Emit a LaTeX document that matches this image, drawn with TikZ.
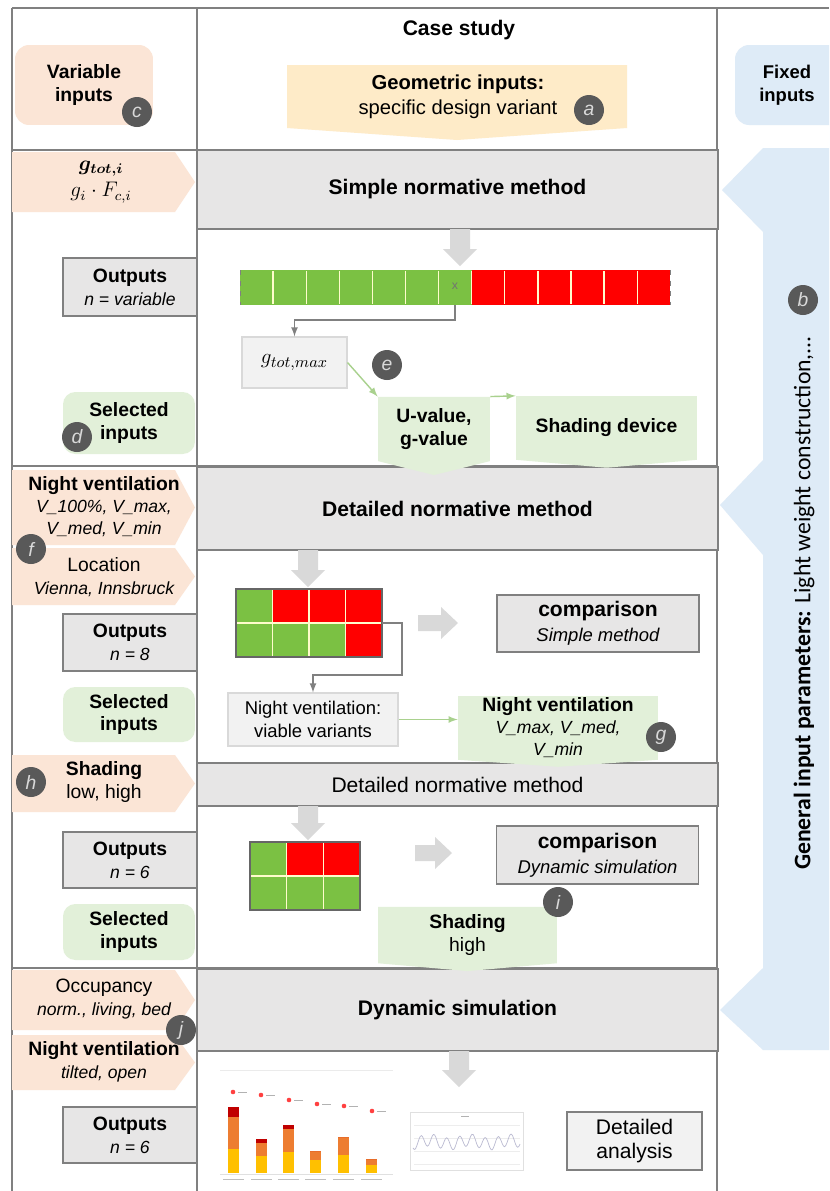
\documentclass[tikz,border=0pt]{standalone}
\usepackage{fontspec}
\setmainfont{Liberation Sans}
\newfontfamily\sidefont{Carlito}
\usetikzlibrary{shapes.symbols}

\definecolor{peach}{HTML}{FBE5D6}
\definecolor{leaf}{HTML}{E2F0D9}
\definecolor{sand}{HTML}{FEEBC8}
\definecolor{sky}{HTML}{DEEBF7}
\definecolor{headgray}{HTML}{E7E6E6}
\definecolor{framegray}{HTML}{808080}
\definecolor{palegray}{HTML}{F2F2F2}
\definecolor{arrowgray}{HTML}{D9D9D9}
\definecolor{badgegray}{HTML}{595959}
\definecolor{okgreen}{HTML}{7BC143}
\definecolor{badred}{HTML}{FF0000}
\definecolor{linkgreen}{HTML}{A9D18E}
\definecolor{chartyellow}{HTML}{FFC000}
\definecolor{chartorange}{HTML}{ED7D31}
\definecolor{chartred}{HTML}{C00000}

\newcommand{\subline}[1]{{\fontsize{10}{13}\selectfont\itshape #1}}

\begin{document}
\begin{tikzpicture}[x=0.02cm, y=-0.02cm,
  frame/.style={draw=framegray, line width=0.8pt},
  header/.style={draw=framegray, fill=headgray, line width=0.8pt, minimum width=10.42cm},
  outbox/.style={draw=framegray, fill=headgray, line width=0.6pt, minimum width=2.68cm, align=center, font=\fontsize{11}{13}\selectfont},
  selbox/.style={fill=leaf, rounded corners=7pt, minimum width=2.64cm, align=center, font=\bfseries\fontsize{11}{13}\selectfont},
  intext/.style={align=center, font=\fontsize{11}{13}\selectfont},
  selarrow/.style={signal, signal to=south, fill=leaf, inner sep=1pt, align=center, font=\fontsize{11}{13}\selectfont},
  cmpbox/.style={draw=framegray, fill=headgray, line width=0.6pt, minimum width=4.04cm, minimum height=1.14cm, align=center, font=\fontsize{12}{14}\selectfont},
  palebox/.style={draw=arrowgray, fill=palegray, line width=0.6pt, align=center, font=\fontsize{10.5}{13}\selectfont},
  badge/.style={circle, fill=badgegray, text=white!85!black, font=\itshape\fontsize{11}{11}\selectfont, inner sep=0pt, minimum size=0.6cm},
  fatarrow/.style={fill=arrowgray},
  cellsep/.style={draw=white!80!yellow, line width=0.7pt},
  link/.style={draw=framegray, line width=0.8pt, -latex},
  greenlink/.style={draw=linkgreen, line width=0.8pt, -latex}]

\useasboundingbox (0,0) rectangle (829,1191);
\clip (0,0) rectangle (829,1191);
\fill[white] (0,0) rectangle (829,1191);

% Fixed inputs column
\fill[sky, rounded corners=8pt] (735,45) rectangle (850,125);
\node[align=center, font=\bfseries\fontsize{10.5}{13}\selectfont] (fixin) at (787,85) {Fixed\\inputs};
\fill[sky] (840,148) -- (763,148) -- (722,190) -- (763,232) -- (763,460) -- (720,505) -- (763,555)
  -- (763,968) -- (720,1010) -- (763,1050) -- (840,1050) -- cycle;
\node[rotate=90, font=\sidefont\fontsize{13.5}{15}\selectfont] (genin) at (804,603)
  {\textbf{General input parameters:} Light weight construction,...};
\node[badge] (bb) at (803,300) {b};

% Table lines
\draw[frame] (12,8) -- (829,8);
\draw[frame] (12,8) -- (12,1191);
\draw[frame] (197,8) -- (197,1191);
\draw[frame] (717,8) -- (717,1191);
\draw[frame] (12,150) -- (717,150);
\draw[frame] (12,466) -- (717,466);
\draw[frame] (12,968) -- (717,968);

% Case study
\node[font=\bfseries\fontsize{12}{14}\selectfont] (case) at (459,30) {Case study};
\fill[sand] (287,65) -- (627,65) -- (627,128) -- (457,140) -- (287,128) -- cycle;
\node[align=center, font=\fontsize{11.5}{14}\selectfont] (geo) at (458,97) {\textbf{Geometric inputs:}\\specific design variant};
\node[badge] (ba) at (589,110) {a};
\node[fill=peach, rounded corners=8pt, minimum width=2.76cm, minimum height=1.6cm, align=center,
  font=\bfseries\fontsize{11}{13}\selectfont] (varin) at (84,85) {Variable\\inputs};
\node[badge] (bc) at (137,112) {c};

% Method rows
\node[header, minimum height=1.58cm, font=\bfseries\fontsize{12}{14}\selectfont] (simple) at (457.5,189.5) {Simple normative method};
\node[header, minimum height=1.66cm, font=\bfseries\fontsize{12}{14}\selectfont] (detail) at (457.5,508.5) {Detailed normative method};
\node[header, minimum height=0.86cm, font=\fontsize{12}{14}\selectfont] (detailb) at (457.5,784.5) {Detailed normative method};
\node[header, minimum height=1.64cm, font=\bfseries\fontsize{12}{14}\selectfont] (dynamic) at (457.5,1010) {Dynamic simulation};

% Fat arrows
\foreach \x/\ya/\yb in {460/229/266, 308/550/587, 308/806/840, 459/1051/1087}
  \fill[fatarrow] (\x-10,\ya) -- (\x+10,\ya) -- (\x+10,\yb-17) -- (\x+17,\yb-17) -- (\x,\yb)
    -- (\x-17,\yb-17) -- (\x-10,\yb-17) -- cycle;
\foreach \xa/\xb/\y in {418/458/623, 415/452/853}
  \fill[fatarrow] (\xa,\y-8) -- (\xb-17,\y-8) -- (\xb-17,\y-16) -- (\xb,\y) -- (\xb-17,\y+16)
    -- (\xb-17,\y+8) -- (\xa,\y+8) -- cycle;

% Left column inputs
\foreach \ya/\yb in {152/212, 470/545, 548/605, 755/812, 970/1030, 1035/1090}
  \fill[peach] (12,\ya) -- (175,\ya) -- (195,{(\ya+\yb)/2}) -- (175,\yb) -- (12,\yb) -- cycle;
\node[intext, font=\fontsize{12}{15}\selectfont] (gin) at (101,182)
  {{\boldmath$g_{tot,i}$}\\$g_{i}\cdot F_{c,i}$};
\node[outbox, minimum height=1.16cm] (out1) at (130,287) {\textbf{Outputs}\\\subline{n = variable}};
\node[selbox, minimum height=1.24cm] (sel1) at (129,423) {Selected\\inputs};
\node[badge] (bd) at (77,437) {d};

\node[intext, font=\fontsize{11}{12.5}\selectfont] (nvin) at (104,507)
  {\textbf{Night ventilation}\\\subline{V\_100\%, V\_max,}\\\subline{V\_med, V\_min}};
\node[intext] (locin) at (104,577) {Location\\\subline{Vienna, Innsbruck}};
\node[badge] (bf) at (31,549) {f};
\node[outbox, minimum height=1.14cm] (out2) at (130,642.5) {\textbf{Outputs}\\\subline{n = 8}};
\node[selbox, minimum height=1.1cm] (sel2) at (129,714.5) {Selected\\inputs};

\node[intext] (shin) at (104,782) {\textbf{Shading}\\low, high};
\node[badge] (bh) at (31,782) {h};
\node[outbox, minimum height=1.12cm] (out3) at (130,860) {\textbf{Outputs}\\\subline{n = 6}};
\node[selbox, minimum height=1.12cm] (sel3) at (129,932) {Selected\\inputs};

\node[intext] (occin) at (104,999) {Occupancy\\\subline{norm., living, bed}};
\node[intext] (ventin) at (104,1062) {\textbf{Night ventilation}\\\subline{tilted, open}};
\node[badge] (bj) at (181,1030) {j};
\node[outbox, minimum height=1.12cm] (out4) at (130,1135) {\textbf{Outputs}\\\subline{n = 6}};

% Simple method: results bar
\foreach \i in {0,...,6}
  \fill[okgreen] ({240+\i*33.1},270) rectangle ++(33.1,35);
\foreach \i in {7,...,12}
  \fill[badred] ({240+\i*33.1},270) rectangle ++(33.1,35);
\foreach \i in {1,...,12}
  \draw[cellsep] ({240+\i*33.1},271) -- ++(0,33);
\draw[framegray, dashed, line width=0.5pt] (240,270) -- (240,305);
\draw[framegray, dashed, line width=0.5pt] (670,270) -- (670,305);
\node[text=black!55, font=\fontsize{7}{7}\selectfont] (xmark) at (455,286) {x};
\coordinate (xcell) at (455,305);

\node[palebox, minimum width=2.1cm, minimum height=1.02cm, font=\fontsize{13}{15}\selectfont] (gtmax) at (294.5,362.5) {$g_{tot,max}$};
\node[badge] (be) at (387,365) {e};
\node[selarrow, signal pointer angle=152, minimum width=2.24cm, minimum height=1.48cm] (uval) at (434,429)
  {\textbf{U-value,}\\\textbf{g-value}};
\node[selarrow, signal pointer angle=170, minimum width=3.62cm, minimum height=1.4cm] (shad) at (606.5,428)
  {\textbf{Shading device}};

\draw[link] (xcell) -- ++(0,15) -| (gtmax.north);
\draw[greenlink] (gtmax.east) -- (uval.north west);
\draw[greenlink] (uval.north east) -- (shad.north west);

% Detailed method: 4 x 2 grid
\foreach \c/\r/\col in {0/0/okgreen, 1/0/badred, 2/0/badred, 3/0/badred,
                        0/1/okgreen, 1/1/okgreen, 2/1/okgreen, 3/1/badred}
  \fill[\col] ({236+\c*36.5},{589+\r*34}) rectangle ++(36.5,34);
\foreach \c in {1,2,3}
  \draw[cellsep] ({236+\c*36.5},590) -- (236+\c*36.5,656);
\draw[cellsep] (237,623) -- (381,623);
\draw[black!60, line width=0.6pt] (236,589) rectangle (382,657);
\coordinate (gridout) at (382,623);

\node[palebox, minimum width=3.4cm, minimum height=1.06cm] (nvbox) at (313,719.5) {Night ventilation:\\viable variants};
\node[selarrow, signal pointer angle=172, minimum width=4cm, minimum height=1.34cm, font=\fontsize{11}{12.5}\selectfont] (nvg) at (558,728)
  {\textbf{Night ventilation}\\\subline{V\_max, V\_med,}\\\subline{V\_min}};
\node[badge] (bg) at (661,737) {g};
\node[cmpbox] (cmp1) at (598,623.5) {\textbf{comparison}\\{\fontsize{10.5}{14}\selectfont\itshape Simple method}};

\draw[link] (gridout) -- ++(20,0) -- ++(0,52) -| (nvbox.north);
\draw[greenlink] (nvbox.east) -- (nvbox.east -| nvg.west);

% Detailed method: 3 x 2 grid
\foreach \c/\r/\col in {0/0/okgreen, 1/0/badred, 2/0/badred,
                        0/1/okgreen, 1/1/okgreen, 2/1/okgreen}
  \fill[\col] ({250+\c*36.7},{842+\r*34}) rectangle ++(36.7,34);
\foreach \c in {1,2}
  \draw[cellsep] ({250+\c*36.7},843) -- (250+\c*36.7,909);
\draw[cellsep] (251,876) -- (359,876);
\draw[black!60, line width=0.6pt] (250,842) rectangle (360,910);

\node[cmpbox, minimum height=1.16cm] (cmp2) at (597.5,855) {\textbf{comparison}\\{\fontsize{10.5}{14}\selectfont\itshape Dynamic simulation}};
\node[selarrow, signal pointer angle=170, minimum width=3.58cm, minimum height=1.2cm] (shg) at (467.5,935)
  {\textbf{Shading}\\high};
\node[badge] (bi) at (558,902) {i};

% Dynamic simulation: charts
\draw[black!8] (220,1070) -- (393,1070);
\draw[black!12] (220,1174) -- (393,1174);
\foreach \bx/\ytop/\yred/\yor in {228/1107/1117/1149, 256/1139/1143/1156, 283/1125/1129/1152,
                                  310/1151/1151/1160, 338/1137/1137/1155, 366/1159/1159/1165} {
  \fill[chartyellow] (\bx,\yor) rectangle (\bx+11,1173);
  \fill[chartorange] (\bx,\yred) rectangle (\bx+11,\yor);
  \fill[chartred] (\bx,\ytop) rectangle (\bx+11,\yred);
  \draw[black!25, line width=0.4pt] (\bx-5,1179) -- (\bx+16,1179);
}
\foreach \dx/\dy in {233/1092, 261/1095, 289/1100, 317/1104, 344/1106, 372/1111} {
  \fill[red!75] (\dx,\dy) circle (1.3pt);
  \draw[black!30, line width=0.5pt] (\dx+5,\dy) -- (\dx+14,\dy);
}
\draw[black!12] (410,1112) rectangle (523,1170);
\foreach \gy in {1125,1138,1151,1164}
  \draw[black!7] (414,\gy) -- (520,\gy);
\draw[black!30] (461,1116) -- (469,1116);
\draw[blue!20!gray!45, line width=0.4pt] plot[domain=413:520, samples=90] (\x, {1142+6*sin(\x*28)+2*sin(\x*9)});

\node[draw=framegray, fill=palegray, line width=0.6pt, minimum width=2.7cm, minimum height=1.16cm, align=center,
  font=\fontsize{12}{14}\selectfont] (analysis) at (634.5,1141) {Detailed\\analysis};

\end{tikzpicture}
\end{document}
